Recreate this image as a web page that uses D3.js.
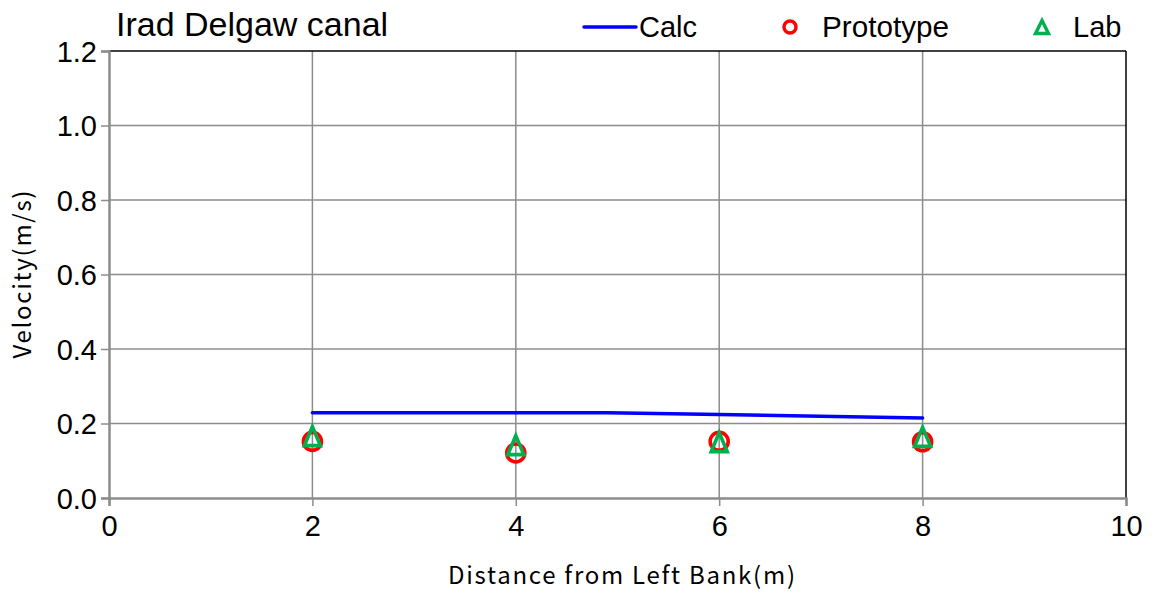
<!DOCTYPE html>
<html>
<head>
<meta charset="utf-8">
<script src="https://cdn.jsdelivr.net/npm/d3@7"></script>
<style>
  html, body { margin: 0; padding: 0; background: #fff; }
  svg { display: block; }
</style>
</head>
<body>
<svg id="chart" width="1159" height="596"></svg>
<script>
// Velocity across the Irad Delgaw canal section
const calcDistance = [2, 4, 4.9, 6, 8];
const calcVelocity = [0.229, 0.229, 0.229, 0.224, 0.215];

const protoDistance = [2, 4, 6, 8];
const protoVelocity = [0.152, 0.121, 0.152, 0.151];

const labDistance = [2, 4, 6, 8];
const labVelocity = [0.166, 0.142, 0.150, 0.164];

const xTicks = [0, 2, 4, 6, 8, 10];
const yTicks = [0.0, 0.2, 0.4, 0.6, 0.8, 1.0, 1.2];

const W = 1159, H = 596;
const margin = { left: 109, right: W - 1126, top: 51, bottom: H - 498 };

const svg = d3.select("#chart");
const x = d3.scaleLinear().domain([0, 10]).range([margin.left, W - margin.right]);
const y = d3.scaleLinear().domain([0, 1.2]).range([H - margin.bottom, margin.top]);

const gridColor = "#8c8c8c";
const font = "'Liberation Sans', Arial, sans-serif";
const jpFont = "'Noto Sans CJK JP', sans-serif";

// grid lines
svg.append("g").selectAll("line").data(xTicks.slice(1, -1)).join("line")
  .attr("x1", d => x(d)).attr("x2", d => x(d))
  .attr("y1", y(1.2)).attr("y2", y(0))
  .attr("stroke", gridColor).attr("stroke-width", 1.5);
svg.append("g").selectAll("line").data(yTicks.slice(1, -1)).join("line")
  .attr("x1", x(0)).attr("x2", x(10))
  .attr("y1", d => y(d)).attr("y2", d => y(d))
  .attr("stroke", gridColor).attr("stroke-width", 1.5);

// top and right frame
svg.append("line").attr("x1", x(0)).attr("x2", x(10)).attr("y1", y(1.2)).attr("y2", y(1.2))
  .attr("stroke", "#000").attr("stroke-width", 1.5);
svg.append("line").attr("x1", x(10)).attr("x2", x(10)).attr("y1", y(1.2)).attr("y2", y(0))
  .attr("stroke", "#000").attr("stroke-width", 1.5);

// axes
const xAxis = svg.append("g").attr("transform", `translate(0,${y(0)})`)
  .call(d3.axisBottom(x).tickValues(xTicks).tickSize(8).tickPadding(14).tickFormat(d3.format("d")));
const yAxis = svg.append("g").attr("transform", `translate(${x(0)},0)`)
  .call(d3.axisLeft(y).tickValues(yTicks).tickSize(8).tickPadding(4).tickFormat(d3.format(".1f")));
[xAxis, yAxis].forEach(g => {
  g.select(".domain").attr("stroke", gridColor).attr("stroke-width", 2.5);
  g.selectAll(".tick line").attr("stroke", gridColor).attr("stroke-width", 1.5);
  g.selectAll(".tick text").attr("fill", "#000").attr("font-family", font).attr("font-size", 29);
});
yAxis.selectAll(".tick text").attr("dy", "0.35em");
xAxis.selectAll(".tick text").attr("dy", "0.55em");

// calculated profile
svg.append("path")
  .datum(calcDistance.map((d, i) => [d, calcVelocity[i]]))
  .attr("fill", "none").attr("stroke", "#0000ff").attr("stroke-width", 3.5)
  .attr("stroke-linecap", "round")
  .attr("d", d3.line().x(d => x(d[0])).y(d => y(d[1])));

// prototype measurements
svg.append("g").selectAll("circle").data(protoDistance.map((d, i) => [d, protoVelocity[i]])).join("circle")
  .attr("cx", d => x(d[0])).attr("cy", d => y(d[1])).attr("r", 9)
  .attr("fill", "none").attr("stroke", "#ff0000").attr("stroke-width", 3.6);

// lab measurements
const tri = (cx, cy, w, h) => `M${cx},${cy - h / 2}L${cx + w / 2},${cy + h / 2}L${cx - w / 2},${cy + h / 2}Z`;
svg.append("g").selectAll("path").data(labDistance.map((d, i) => [d, labVelocity[i]])).join("path")
  .attr("d", d => tri(x(d[0]), y(d[1]), 16, 19))
  .attr("fill", "none").attr("stroke", "#00b050").attr("stroke-width", 3.6)
  .attr("stroke-linejoin", "miter");

// title
svg.append("text").attr("x", 116).attr("y", 36).attr("font-family", font).attr("font-size", 34)
  .attr("fill", "#000").text("Irad Delgaw canal");

// legend
const ly = 27;
svg.append("line").attr("x1", 584).attr("x2", 636).attr("y1", ly).attr("y2", ly)
  .attr("stroke", "#0000ff").attr("stroke-width", 3.5).attr("stroke-linecap", "round");
svg.append("text").attr("x", 639).attr("y", ly + 10).attr("font-family", font).attr("font-size", 29).text("Calc");
svg.append("circle").attr("cx", 790).attr("cy", ly).attr("r", 6)
  .attr("fill", "none").attr("stroke", "#ff0000").attr("stroke-width", 3.4);
svg.append("text").attr("x", 822).attr("y", ly + 10).attr("font-family", font).attr("font-size", 29)
  .attr("textLength", 127).attr("lengthAdjust", "spacingAndGlyphs").text("Prototype");
svg.append("path").attr("d", tri(1042, ly, 13, 13))
  .attr("fill", "none").attr("stroke", "#00b050").attr("stroke-width", 3.4);
svg.append("text").attr("x", 1073).attr("y", ly + 10).attr("font-family", font).attr("font-size", 29).text("Lab");

// axis titles
svg.append("text").attr("x", 448).attr("y", 584)
  .attr("font-family", jpFont).attr("font-size", 24)
  .attr("textLength", 347).attr("lengthAdjust", "spacing")
  .attr("fill", "#000").text("Distance from Left Bank(m)");
svg.append("text").attr("transform", `translate(31,${(y(0) + y(1.2)) / 2}) rotate(-90)`)
  .attr("x", -84)
  .attr("font-family", jpFont).attr("font-size", 24)
  .attr("textLength", 168).attr("lengthAdjust", "spacing")
  .attr("fill", "#000").text("Velocity(m/s)");
</script>
</body>
</html>
